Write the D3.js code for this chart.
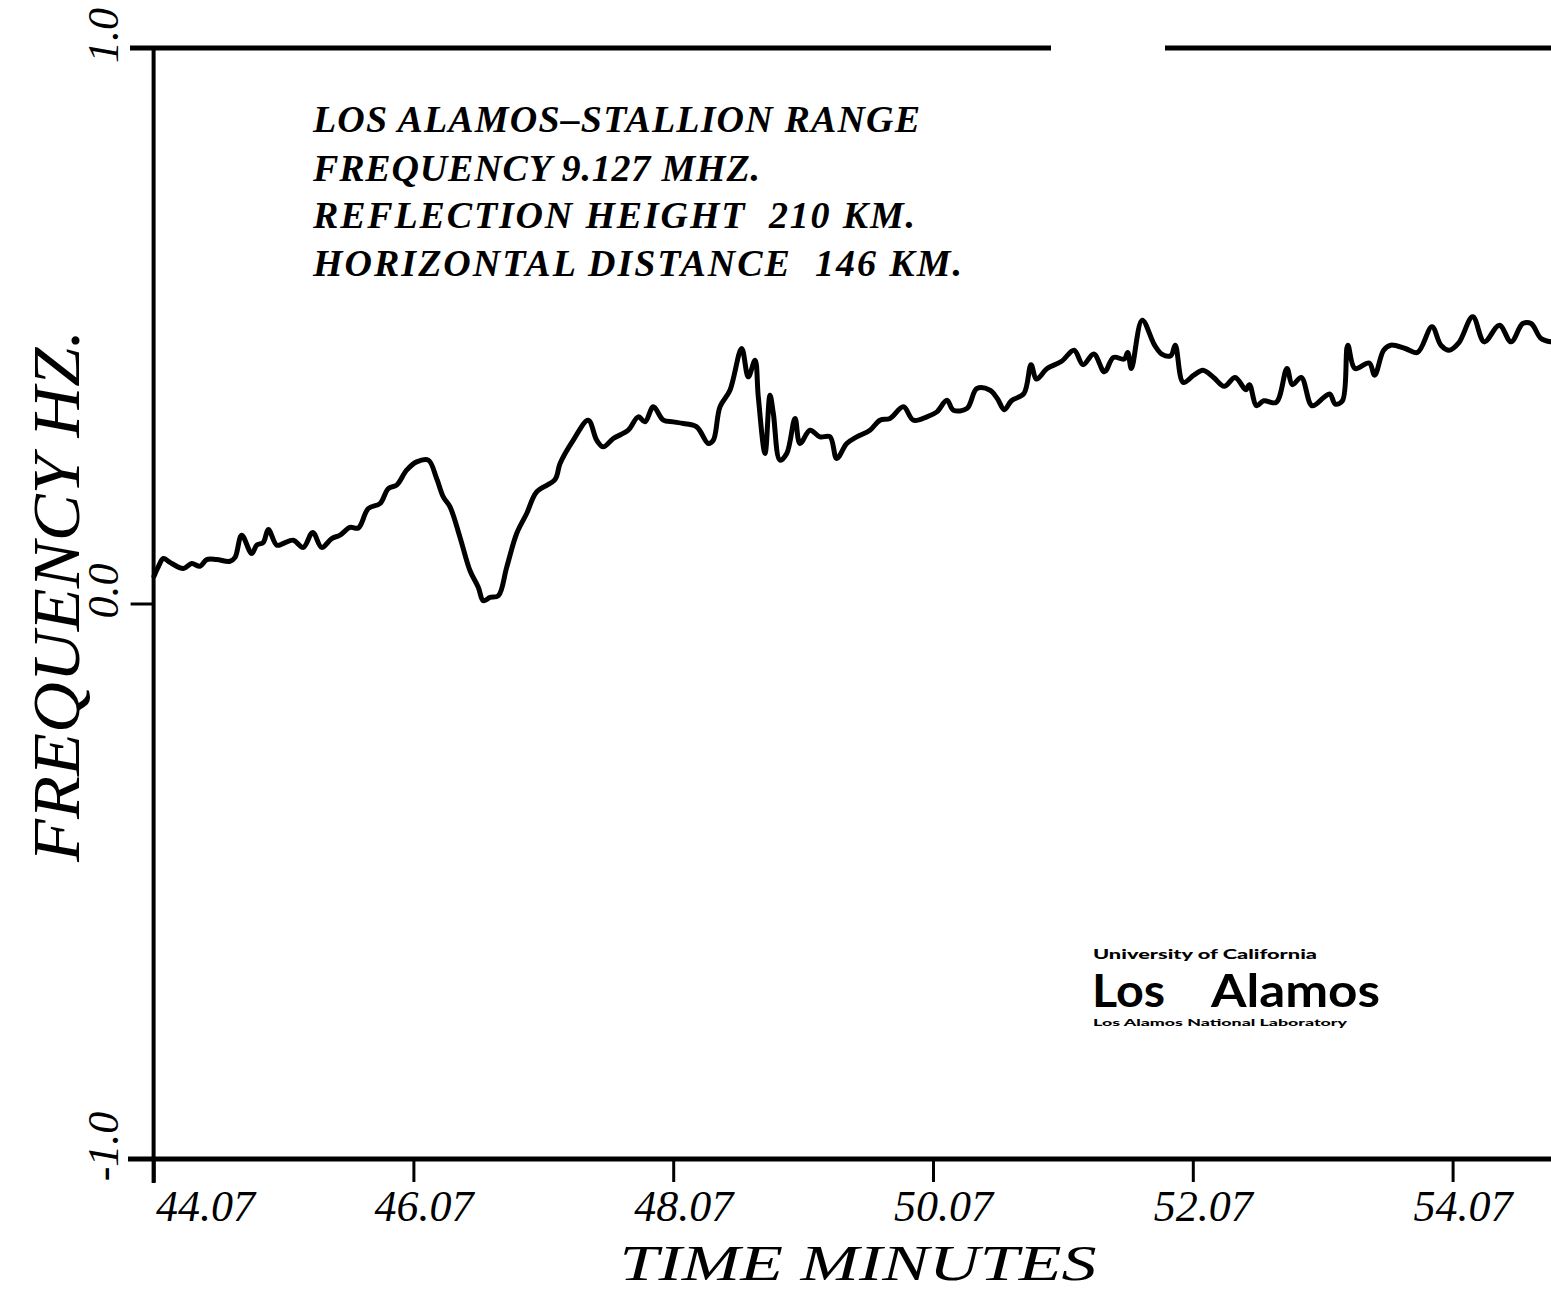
<!DOCTYPE html>
<html>
<head>
<meta charset="utf-8">
<script src="https://cdn.jsdelivr.net/npm/d3@7/dist/d3.min.js"></script>
<style>
  html, body { margin: 0; padding: 0; background: #fff; }
  svg { display: block; }
</style>
</head>
<body>
<svg id="chart" width="1551" height="1293"></svg>
<script>
// ---------------- DATA ----------------
const timeMinutes = [
  44.073, 44.104, 44.145, 44.196, 44.299, 44.363, 44.427, 44.479, 44.556, 44.658,
  44.697, 44.748, 44.825, 44.864, 44.914, 44.953, 45.018, 45.068, 45.145, 45.222,
  45.295, 45.364, 45.441, 45.505, 45.582, 45.646, 45.723, 45.813, 45.877, 45.941,
  46.018, 46.095, 46.185, 46.249, 46.300, 46.352, 46.429, 46.506, 46.570, 46.608,
  46.660, 46.724, 46.788, 46.865, 46.942, 47.019, 47.160, 47.199, 47.301, 47.416,
  47.481, 47.532, 47.609, 47.724, 47.801, 47.853, 47.917, 47.994, 48.071, 48.148,
  48.251, 48.340, 48.379, 48.430, 48.507, 48.597, 48.648, 48.700, 48.725, 48.777,
  48.815, 48.841, 48.892, 48.944, 49.008, 49.046, 49.123, 49.200, 49.277, 49.329,
  49.406, 49.483, 49.585, 49.662, 49.739, 49.842, 49.919, 50.023, 50.100, 50.177,
  50.227, 50.331, 50.408, 50.509, 50.565, 50.619, 50.674, 50.770, 50.825, 50.866,
  50.949, 51.060, 51.156, 51.225, 51.308, 51.390, 51.459, 51.542, 51.569, 51.597,
  51.680, 51.776, 51.831, 51.900, 51.935, 51.996, 52.078, 52.148, 52.230, 52.312,
  52.396, 52.478, 52.506, 52.561, 52.616, 52.712, 52.795, 52.836, 52.905, 52.988,
  53.084, 53.126, 53.167, 53.222, 53.263, 53.318, 53.428, 53.470, 53.539, 53.594,
  53.705, 53.800, 53.911, 53.980, 54.045, 54.117, 54.225, 54.314, 54.430, 54.520,
  54.610, 54.674, 54.751, 54.827
];
const frequencyHz = [
  0.049, 0.065, 0.081, 0.074, 0.063, 0.072, 0.067, 0.079, 0.079, 0.076,
  0.083, 0.123, 0.090, 0.105, 0.110, 0.133, 0.105, 0.108, 0.114, 0.101,
  0.128, 0.101, 0.117, 0.123, 0.137, 0.136, 0.171, 0.180, 0.207, 0.213,
  0.240, 0.255, 0.258, 0.225, 0.192, 0.174, 0.119, 0.059, 0.029, 0.005,
  0.011, 0.014, 0.065, 0.126, 0.162, 0.201, 0.223, 0.252, 0.294, 0.330,
  0.294, 0.282, 0.297, 0.312, 0.336, 0.327, 0.354, 0.330, 0.327, 0.324,
  0.318, 0.288, 0.294, 0.354, 0.384, 0.459, 0.408, 0.438, 0.372, 0.270,
  0.375, 0.342, 0.258, 0.270, 0.333, 0.288, 0.312, 0.300, 0.300, 0.261,
  0.288, 0.300, 0.312, 0.330, 0.333, 0.354, 0.330, 0.336, 0.345, 0.366,
  0.348, 0.351, 0.387, 0.384, 0.369, 0.349, 0.365, 0.378, 0.430, 0.404,
  0.423, 0.436, 0.456, 0.430, 0.449, 0.417, 0.443, 0.440, 0.452, 0.423,
  0.510, 0.465, 0.449, 0.446, 0.465, 0.398, 0.411, 0.420, 0.407, 0.391,
  0.407, 0.385, 0.394, 0.356, 0.365, 0.362, 0.423, 0.394, 0.407, 0.356,
  0.372, 0.377, 0.359, 0.365, 0.465, 0.423, 0.433, 0.411, 0.456, 0.465,
  0.459, 0.452, 0.498, 0.465, 0.456, 0.469, 0.516, 0.471, 0.501, 0.471,
  0.504, 0.504, 0.477, 0.471
];
const xTickValues = [44.07, 46.07, 48.07, 50.07, 52.07, 54.07];
const xTickLabels = ["44.07", "46.07", "48.07", "50.07", "52.07", "54.07"];
const yTickValues = [1.0, 0.0, -1.0];
const yTickLabels = ["1.0", "0.0", "-1.0"];
const annotationLines = [
  "LOS ALAMOS\u2013STALLION RANGE",
  "FREQUENCY 9.127 MHZ.",
  "REFLECTION HEIGHT  210 KM.",
  "HORIZONTAL DISTANCE  146 KM."
];
const xTitle = "TIME MINUTES";
const yTitle = "FREQUENCY HZ.";
const logoLines = ["University of California", "Los Alamos", "Los Alamos National Laboratory"];

// ---------------- LAYOUT ----------------
const svg = d3.select("#chart");
const serif = "'Liberation Serif', 'DejaVu Serif', serif";
const sans = "'Lato', 'Inter', 'DejaVu Sans', sans-serif";

const x = d3.scaleLinear().domain([44.07, 54.07]).range([153.6, 1452.6]);
const y = d3.scaleLinear().domain([-1, 1]).range([1159, 48]);
const axisY = y(-1);
const axisX = x(44.07);

// frame lines
const frame = svg.append("g").attr("stroke", "#000").attr("stroke-linecap", "butt");
frame.append("line").attr("x1", 128).attr("x2", 1551).attr("y1", axisY).attr("y2", axisY).attr("stroke-width", 5);
frame.append("line").attr("x1", axisX).attr("x2", axisX).attr("y1", y(1) - 2).attr("y2", axisY + 24).attr("stroke-width", 4);
frame.append("line").attr("x1", 130).attr("x2", 1051).attr("y1", y(1)).attr("y2", y(1)).attr("stroke-width", 5);
frame.append("line").attr("x1", 1165).attr("x2", 1551).attr("y1", y(1)).attr("y2", y(1)).attr("stroke-width", 5);

// x axis
const xAxis = d3.axisBottom(x)
  .tickValues(xTickValues)
  .tickFormat((d, i) => xTickLabels[i])
  .tickSize(23)
  .tickSizeOuter(0)
  .tickPadding(0);
const gx = svg.append("g").attr("transform", `translate(0,${axisY})`).call(xAxis);
gx.select(".domain").remove();
gx.selectAll(".tick line").attr("stroke", "#000").attr("stroke-width", 3);
gx.selectAll(".tick text")
  .attr("fill", "#000")
  .attr("font-family", serif)
  .attr("font-style", "italic")
  .attr("font-size", 44)
  .attr("dy", null)
  .attr("y", 62)
  .attr("x", (d, i) => i === 0 ? 2 : 10)
  .attr("text-anchor", (d, i) => i === 0 ? "start" : "middle");

// y axis
const yAxis = d3.axisLeft(y)
  .tickValues(yTickValues)
  .tickFormat((d, i) => yTickLabels[i])
  .tickSize(23)
  .tickSizeOuter(0)
  .tickPadding(0);
const gy = svg.append("g").attr("transform", `translate(${axisX},0)`).call(yAxis);
gy.select(".domain").remove();
gy.selectAll(".tick line").attr("stroke", "#000").attr("stroke-width", 3);
gy.selectAll(".tick text")
  .attr("fill", "#000")
  .attr("font-family", serif)
  .attr("font-style", "italic")
  .attr("font-size", 44)
  .attr("x", null).attr("y", null).attr("dy", null)
  .attr("text-anchor", "middle")
  .attr("dominant-baseline", "central")
  .attr("transform", "translate(-50,-13) rotate(-90)");

// data line
const data = timeMinutes.map((t, i) => ({ t, v: frequencyHz[i] }));
const line = d3.line()
  .x(d => x(d.t))
  .y(d => y(d.v))
  .curve(d3.curveCatmullRom.alpha(0.5));
svg.append("path")
  .datum(data)
  .attr("fill", "none")
  .attr("stroke", "#000")
  .attr("stroke-width", 5)
  .attr("stroke-linejoin", "round")
  .attr("stroke-linecap", "round")
  .attr("d", line);

// annotation block
const annoBaselines = [132, 181, 228, 276];
const annoWidths = [607, 447, 602, 649];
svg.append("g").selectAll("text")
  .data(annotationLines)
  .join("text")
  .attr("x", 313)
  .attr("y", (d, i) => annoBaselines[i])
  .attr("font-family", serif)
  .attr("font-style", "italic")
  .attr("font-weight", "bold")
  .attr("font-size", 38)
  .attr("textLength", (d, i) => annoWidths[i])
  .attr("lengthAdjust", "spacing")
  .attr("xml:space", "preserve")
  .style("white-space", "pre")
  .attr("fill", "#000")
  .text(d => d);

// axis titles
svg.append("text")
  .attr("x", 858).attr("y", 1280)
  .attr("text-anchor", "middle")
  .attr("font-family", serif)
  .attr("font-style", "italic")
  .attr("font-size", 50)
  .attr("textLength", 477)
  .attr("lengthAdjust", "spacingAndGlyphs")
  .attr("fill", "#000")
  .text(xTitle);

svg.append("text")
  .attr("transform", "translate(56,596) rotate(-90)")
  .attr("text-anchor", "middle")
  .attr("dominant-baseline", "central")
  .attr("font-family", serif)
  .attr("font-style", "italic")
  .attr("font-size", 68)
  .attr("textLength", 532)
  .attr("lengthAdjust", "spacingAndGlyphs")
  .attr("fill", "#000")
  .text(yTitle);

// logo
const logo = svg.append("g").attr("fill", "#000").attr("font-family", sans);
logo.append("text").attr("x", 1093).attr("y", 959)
  .attr("font-size", 13).attr("font-weight", 900)
  .attr("textLength", 224).attr("lengthAdjust", "spacingAndGlyphs")
  .text(logoLines[0]);
const bigWords = logoLines[1].split(" ");
const bigX = [1092, 1211];
const bigW = [73, 169];
logo.append("text").attr("y", 1007)
  .attr("font-size", 46).attr("font-weight", 700)
  .selectAll("tspan")
  .data(bigWords)
  .join("tspan")
  .attr("x", (d, i) => bigX[i])
  .attr("textLength", (d, i) => bigW[i])
  .attr("lengthAdjust", "spacingAndGlyphs")
  .text(d => d);
logo.append("text").attr("x", 1093).attr("y", 1026)
  .attr("font-size", 10).attr("font-weight", 900)
  .attr("textLength", 254).attr("lengthAdjust", "spacingAndGlyphs")
  .text(logoLines[2]);
</script>
</body>
</html>
